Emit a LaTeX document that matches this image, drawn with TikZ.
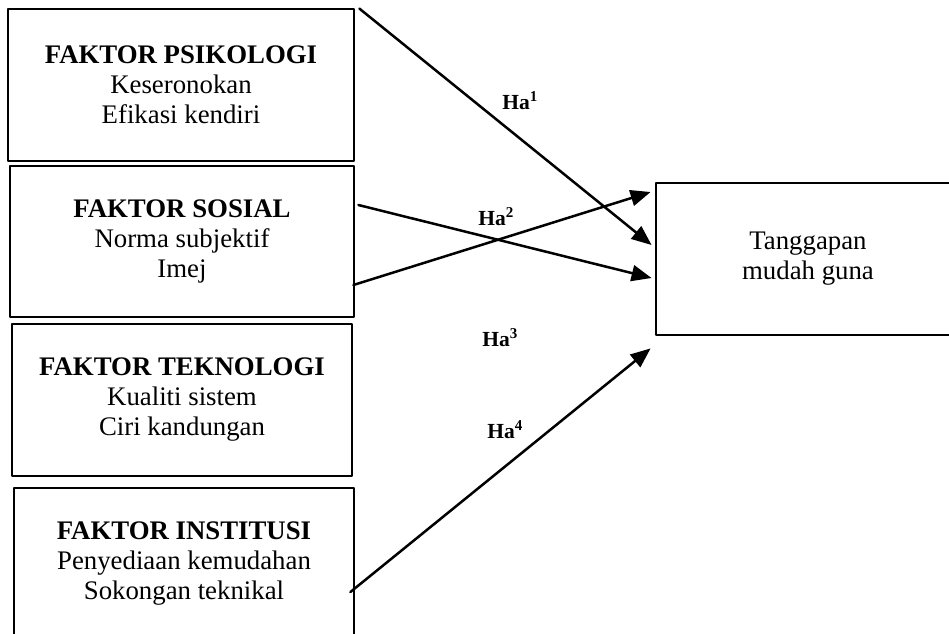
\documentclass[tikz,border=0pt]{standalone}
\usepackage{fontspec}
\setmainfont{Liberation Serif}
\usepackage{tikz}
\usetikzlibrary{arrows.meta}
\tikzset{>={Triangle[length=10pt,width=8pt]}}
\tikzset{faktor/.style={draw,line width=1.4pt,align=center,inner sep=0pt,font=\fontsize{13.4}{15}\selectfont},
	hipotesis/.style={anchor=base west,inner sep=0pt,font=\fontsize{10.75}{12}\selectfont\bfseries}}

\begin{document}
\begin{tikzpicture}[line cap=round,line join=round,x=0.5pt,y=-0.5pt]
	\useasboundingbox (0,0) rectangle (949,633);
	\node[faktor,minimum width=173pt,minimum height=76pt] (psikologi) at (181,85) {\textbf{FAKTOR PSIKOLOGI}\\Keseronokan\\Efikasi kendiri};
	\node[faktor,minimum width=172pt,minimum height=75.5pt] (sosial) at (182,241.5) {\textbf{FAKTOR SOSIAL}\\Norma subjektif\\Imej};
	\node[faktor,minimum width=170pt,minimum height=76pt] (teknologi) at (182,400) {\textbf{FAKTOR TEKNOLOGI}\\Kualiti sistem\\Ciri kandungan};
	\node[faktor,minimum width=170pt,minimum height=76pt] (institusi) at (184,564) {\textbf{FAKTOR INSTITUSI}\\Penyediaan kemudahan\\Sokongan teknikal};
	\node[faktor,minimum width=152pt,minimum height=76pt] (tanggapan) at (808,259) {Tanggapan\\mudah guna};
	\draw[->,line width=1.25pt] ([shift={(4,1)}]psikologi.north east) -- ([shift={(-3,-14)}]tanggapan.west);
	\draw[->,line width=1.25pt] ([shift={(3,-36.5)}]sosial.east) -- ([shift={(-3,19)}]tanggapan.west);
	\draw[->,line width=1.25pt] ([shift={(-2,43.5)}]sosial.east) -- ([shift={(-4,-67)}]tanggapan.west);
	\draw[->,line width=1.25pt] ([shift={(-5,28)}]institusi.east) -- ([shift={(-4,12)}]tanggapan.south west);
	\node[hipotesis] (ha1) at (502,109) {Ha\textsuperscript{1}};
	\node[hipotesis] (ha2) at (478,225) {Ha\textsuperscript{2}};
	\node[hipotesis] (ha3) at (482,346) {Ha\textsuperscript{3}};
	\node[hipotesis] (ha4) at (487,438) {Ha\textsuperscript{4}};
\end{tikzpicture}
\end{document}
